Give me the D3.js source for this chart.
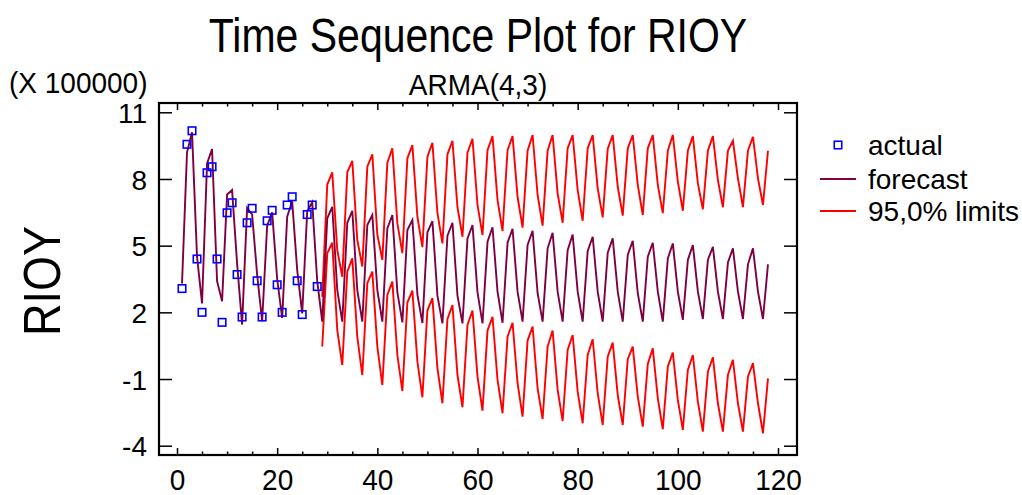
<!DOCTYPE html>
<html>
<head>
<meta charset="utf-8">
<script src="https://cdn.jsdelivr.net/npm/d3@7"></script>
<style>
  html, body { margin: 0; padding: 0; background: #fff; }
  text { font-family: "Liberation Sans", Arial, sans-serif; fill: #000; }
</style>
</head>
<body>
<svg id="chart" width="1022" height="495"></svg>
<script>
// ---- data (values in units of 100000) ----
const actualT = d3.range(1, 29);
const actualValues = [3.07, 9.56, 10.17, 4.4, 2.0, 8.28, 8.55, 4.4, 1.55, 6.48,
  6.93, 3.7, 1.79, 6.03, 6.68, 3.42, 1.79, 6.12, 6.59, 3.24,
  2.0, 6.83, 7.2, 3.42, 1.9, 6.4, 6.83, 3.16];

const forecastStart = 1;
const forecastValues = [3.3, 9.2, 10.1, 4.5, 2.4, 8.7, 9.35, 3.4, 2.5, 7.3,
  7.5, 4.2, 1.45, 6.7, 6.4, 3.7, 1.6, 5.9, 6.5, 3.5,
  1.75, 6.3, 7.0, 3.9, 1.95, 6.55, 6.95, 3.4, 1.58, 6.23,
  6.75, 3.0, 1.58, 6.03, 6.57, 3.0, 1.58, 5.93, 6.38, 3.0,
  1.58, 5.78, 6.38, 2.9, 1.55, 5.7, 6.15, 2.8, 1.52, 5.6,
  6.1, 2.75, 1.5, 5.45, 6.03, 2.75, 1.5, 5.33, 5.93, 2.9,
  1.5, 5.18, 5.83, 2.93, 1.53, 5.13, 5.76, 2.93, 1.58, 5.03,
  5.67, 2.86, 1.58, 4.88, 5.58, 2.93, 1.58, 4.8, 5.5, 2.93,
  1.58, 4.76, 5.4, 2.93, 1.58, 4.68, 5.33, 2.93, 1.58, 4.58,
  5.22, 2.86, 1.58, 4.5, 5.13, 2.93, 1.58, 4.43, 5.1, 2.93,
  1.66, 4.36, 5.03, 2.93, 1.7, 4.36, 4.95, 2.93, 1.7, 4.24,
  4.88, 2.93, 1.7, 4.16, 4.88, 2.93, 1.7, 4.16];

const limitStart = 29;
const upperValues = [2.7, 7.75, 8.3, 4.8, 3.6, 8.3, 8.82, 5.26, 4.06, 8.55,
  9.11, 5.5, 4.36, 8.73, 9.38, 6.0, 4.66, 8.93, 9.53, 6.3,
  4.93, 9.0, 9.63, 6.46, 5.1, 9.11, 9.72, 6.73, 5.4, 9.18,
  9.81, 6.83, 5.48, 9.3, 9.93, 7.05, 5.66, 9.3, 9.93, 7.2,
  5.81, 9.27, 9.98, 7.28, 5.9, 9.27, 9.98, 7.35, 6.03, 9.38,
  9.98, 7.5, 6.12, 9.38, 9.98, 7.58, 6.27, 9.35, 9.98, 7.65,
  6.35, 9.38, 9.98, 7.73, 6.38, 9.38, 9.98, 7.73, 6.46, 9.27,
  9.98, 7.88, 6.57, 9.27, 9.93, 7.8, 6.64, 9.27, 9.93, 7.95,
  6.73, 9.27, 9.72, 8.03, 6.73, 9.27, 9.9, 8.03, 6.83, 9.27];
const lowerValues = [0.46, 4.66, 5.13, 1.2, -0.37, 3.83, 4.43, 0.9, -0.82, 3.31,
  3.83, 0.46, -1.27, 2.78, 3.38, 0.08, -1.54, 2.44, 2.98, -0.22,
  -1.82, 2.08, 2.64, -0.52, -2.09, 1.69, 2.33, -0.82, -2.27, 1.43,
  2.08, -0.89, -2.42, 1.18, 1.8, -1.04, -2.54, 0.9, 1.53, -1.19,
  -2.69, 0.73, 1.36, -1.42, -2.8, 0.46, 1.18, -1.49, -2.89, 0.31,
  0.98, -1.57, -2.99, 0.08, 0.79, -1.64, -3.07, 0.0, 0.64, -1.72,
  -3.07, -0.11, 0.46, -1.79, -3.14, -0.32, 0.38, -1.87, -3.26, -0.44,
  0.19, -1.94, -3.29, -0.59, 0.08, -2.02, -3.37, -0.67, -0.02, -2.09,
  -3.37, -0.82, -0.14, -2.09, -3.37, -0.89, -0.29, -2.09, -3.44, -0.97];

const xTicks = [0, 20, 40, 60, 80, 100, 120];
const xMinorTicks = d3.range(0, 121, 5);
const yTicks = [-4, -1, 2, 5, 8, 11];
const legendLabels = ["actual", "forecast", "95,0% limits"];
const titleText = "Time Sequence Plot for RIOY";
const subtitleText = "ARMA(4,3)";
const multiplierText = "(X 100000)";
const yTitle = "RIOY";

// ---- layout ----
const frame = { left: 159, right: 797, top: 103, bottom: 455 };
const x = d3.scaleLinear().domain([0, 120]).range([177, 778]);
const y = d3.scaleLinear().domain([-4, 11]).range([445.7, 112.3]);

const colors = { actual: "#0000ff", forecast: "#7f0040", limits: "#ff0000" };

const svg = d3.select("#chart");

// text helper: vertically stretched text anchored at baseline
function addText(px, py, str, size, anchor, sy, rot) {
  const t = svg.append("text")
    .attr("transform", `translate(${px},${py})` + (rot ? ` rotate(${rot})` : "") + ` scale(1,${sy})`)
    .attr("text-anchor", anchor || "start")
    .style("font-size", size + "px").text(str);
  return t;
}

addText(478, 52, titleText, 41, "middle", 1.15);
addText(478, 95, subtitleText, 28, "middle", 1.08);
addText(9, 93, multiplierText, 28, "start", 1.08);
addText(60, (frame.top + frame.bottom) / 2 + 2, yTitle, 45, "middle", 1.15, -90);

// clip
svg.append("clipPath").attr("id", "clip").append("rect")
  .attr("x", frame.left).attr("y", frame.top)
  .attr("width", frame.right - frame.left).attr("height", frame.bottom - frame.top);

const plot = svg.append("g").attr("clip-path", "url(#clip)");

const line = (start) => d3.line()
  .x((d, i) => x(start + i))
  .y(d => y(d));

plot.append("path").datum(upperValues).attr("d", line(limitStart))
  .attr("fill", "none").attr("stroke", colors.limits).attr("stroke-width", 1.9);
plot.append("path").datum(lowerValues).attr("d", line(limitStart))
  .attr("fill", "none").attr("stroke", colors.limits).attr("stroke-width", 1.9);
plot.append("path").datum(forecastValues).attr("d", line(forecastStart))
  .attr("fill", "none").attr("stroke", colors.forecast).attr("stroke-width", 1.9);

const sq = 7.5;
plot.selectAll("rect.actual").data(actualValues).enter().append("rect")
  .attr("class", "actual")
  .attr("x", (d, i) => x(actualT[i]) - sq / 2)
  .attr("y", d => y(d) - sq / 2)
  .attr("width", sq).attr("height", sq)
  .attr("fill", "none").attr("stroke", colors.actual).attr("stroke-width", 1.6);

// axes (ticks inward)
const axG = svg.append("g");
const tickStyle = g => g.selectAll("line").attr("stroke", "#000").attr("stroke-width", 1.5);
const minorVals = xMinorTicks.filter(v => !xTicks.includes(v));
const plain = d => String(d);

// bottom
const axBottom = axG.append("g").attr("transform", `translate(0,${frame.bottom})`)
  .call(d3.axisBottom(x).tickValues(xTicks).tickSize(-7).tickPadding(12).tickFormat(plain));
axBottom.select(".domain").remove();
axBottom.selectAll("text").style("font-size", "28px").attr("font-family", null)
  .attr("dy", null).attr("y", 33).attr("transform", "scale(1,1.05)");
tickStyle(axBottom);
const axBottomMinor = axG.append("g").attr("transform", `translate(0,${frame.bottom})`)
  .call(d3.axisBottom(x).tickValues(minorVals).tickSize(-3.5).tickFormat(""));
axBottomMinor.select(".domain").remove();
tickStyle(axBottomMinor);

// top
const axTop = axG.append("g").attr("transform", `translate(0,${frame.top})`)
  .call(d3.axisTop(x).tickValues(xTicks).tickSize(-7).tickFormat(""));
axTop.select(".domain").remove();
tickStyle(axTop);
const axTopMinor = axG.append("g").attr("transform", `translate(0,${frame.top})`)
  .call(d3.axisTop(x).tickValues(minorVals).tickSize(-3.5).tickFormat(""));
axTopMinor.select(".domain").remove();
tickStyle(axTopMinor);

// left
const axLeft = axG.append("g").attr("transform", `translate(${frame.left},0)`)
  .call(d3.axisLeft(y).tickValues(yTicks).tickSize(-13).tickFormat(plain));
axLeft.select(".domain").remove();
axLeft.selectAll("text").style("font-size", "28px").attr("font-family", null)
  .attr("x", -12).attr("dy", "0.36em");
tickStyle(axLeft);

// right
const axRight = axG.append("g").attr("transform", `translate(${frame.right},0)`)
  .call(d3.axisRight(y).tickValues(yTicks).tickSize(-13).tickFormat(""));
axRight.select(".domain").remove();
tickStyle(axRight);

// frame
svg.append("rect").attr("x", frame.left).attr("y", frame.top)
  .attr("width", frame.right - frame.left).attr("height", frame.bottom - frame.top)
  .attr("fill", "none").attr("stroke", "#000").attr("stroke-width", 2.2);

// legend
const lg = svg.append("g");
const legY = [145, 179, 211];
lg.append("rect").attr("x", 838 - 3.75).attr("y", legY[0] - 3.75).attr("width", 7.5).attr("height", 7.5)
  .attr("fill", "none").attr("stroke", colors.actual).attr("stroke-width", 1.6);
lg.append("line").attr("x1", 820).attr("x2", 856).attr("y1", legY[1]).attr("y2", legY[1])
  .attr("stroke", colors.forecast).attr("stroke-width", 1.9);
lg.append("line").attr("x1", 820).attr("x2", 856).attr("y1", legY[2]).attr("y2", legY[2])
  .attr("stroke", colors.limits).attr("stroke-width", 1.9);
legendLabels.forEach((t, i) => {
  lg.append("text").attr("x", 868).attr("y", legY[i] + 10).style("font-size", "28px").text(t);
});
</script>
</body>
</html>
